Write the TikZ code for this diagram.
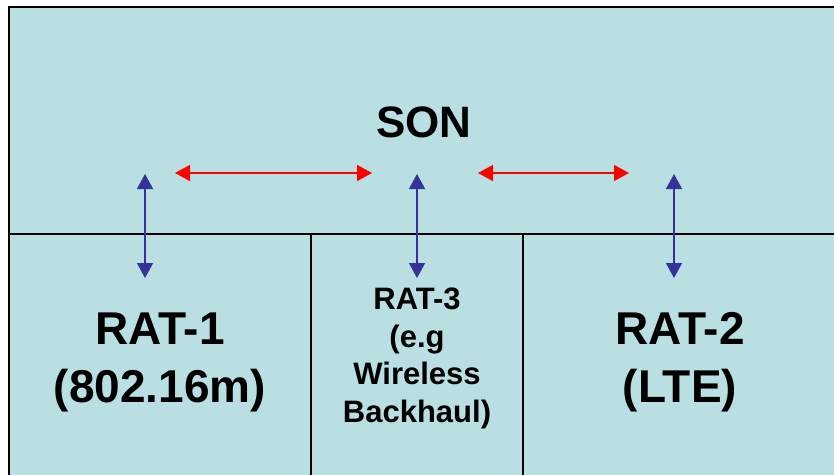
\documentclass[tikz,border=0pt]{standalone}
\usepackage{fontspec}
\setmainfont{Liberation Sans}
\usetikzlibrary{arrows.meta}
\definecolor{cellfill}{RGB}{185,223,226}
\definecolor{linkblue}{RGB}{51,51,153}
\definecolor{linkred}{RGB}{255,0,0}
\tikzset{
  frame/.style={draw=black,line width=2pt,fill=cellfill},
  divider/.style={draw=black,line width=2pt},
  vlink/.style={draw=linkblue,line width=1.5pt,{Triangle[width=16pt,length=15pt]}-{Triangle[width=16pt,length=15pt]}},
  hlink/.style={draw=linkred,line width=1.5pt,{Triangle[width=16pt,length=15pt]}-{Triangle[width=16pt,length=15pt]}},
  bigtext/.style={font=\fontsize{46}{58}\selectfont\bfseries,align=center,inner sep=0pt},
  sontext/.style={font=\fontsize{44}{52}\selectfont\bfseries,inner sep=0pt},
  smalltext/.style={font=\fontsize{31}{37.5}\selectfont\bfseries,align=center,inner sep=0pt}
}
\begin{document}
\begin{tikzpicture}[x=1pt,y=-1pt]
\useasboundingbox (0,0) rectangle (834,474);
\clip (0,0) rectangle (834,474);
\path[frame] (9,7) rectangle (845,490);
\draw[divider] (9,234) -- (845,234);
\draw[divider] (311,234) -- (311,490);
\draw[divider] (523,234) -- (523,490);
\node[sontext,anchor=base] (son) at (424,137) {SON};
\node[bigtext,anchor=base] (rat1) at (160,402) {RAT-1\\(802.16m)};
\node[bigtext,anchor=base] (rat2) at (680,402) {RAT-2\\(LTE)};
\node[smalltext,anchor=base] (rat3) at (417,422) {RAT-3\\(e.g\\Wireless\\Backhaul)};
\coordinate (a1t) at (145,174);
\coordinate (a1b) at (145,278);
\coordinate (a2t) at (417,174);
\coordinate (a2b) at (417,278);
\coordinate (a3t) at (674,174);
\coordinate (a3b) at (674,278);
\coordinate (h1l) at (175,173);
\coordinate (h1r) at (372,173);
\coordinate (h2l) at (478,173);
\coordinate (h2r) at (629,173);
\draw[vlink] (a1t) -- (a1b);
\draw[vlink] (a2t) -- (a2b);
\draw[vlink] (a3t) -- (a3b);
\draw[hlink] (h1l) -- (h1r);
\draw[hlink] (h2l) -- (h2r);
\end{tikzpicture}
\end{document}
